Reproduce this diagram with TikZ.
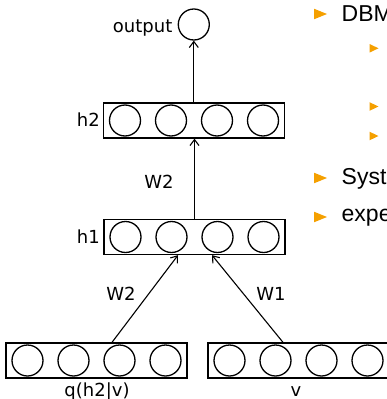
\documentclass[tikz,border=0pt]{standalone}
\usepackage{fontspec}
\setmainfont{DejaVu Sans}
\newfontfamily\slidefont{Liberation Sans}
\usetikzlibrary{arrows.meta}
\definecolor{bulletorange}{RGB}{245,160,0}

\begin{document}
\begin{tikzpicture}[x=1pt,y=-1pt,
  unit/.style={circle,draw,line width=1.3pt,minimum size=31pt,inner sep=0pt},
  layer/.style={draw,line width=1.3pt,minimum width=181pt,minimum height=35pt,inner sep=0pt},
  lbl/.style={font=\fontsize{18}{20}\selectfont,inner sep=0pt},
  conn/.style={line width=1.1pt,-{Straight Barb[length=6pt,width=9pt]}},
  bigbullet/.style={fill=bulletorange},
  bullettext/.style={font=\slidefont\fontsize{23}{26}\selectfont,inner sep=0pt,anchor=base west},
]
\useasboundingbox (0,0) rectangle (387,399);

% layers of units
\foreach \name/\cx/\cy in {h2/194/120.5, h1/194.5/237, q/96.5/360.5, v/298.5/360.5}{
  \node[layer] (\name) at (\cx,\cy) {};
  \foreach \i/\dx in {1/-69,2/-23,3/23,4/69}
    \node[unit] (\name-\i) at ([xshift=\dx pt]\name.center) {};
}
\node[unit] (out) at (193.8,24.5) {};

% layer labels
\node[lbl,anchor=base east] (outlbl) at (172.5,32) {output};
\node[lbl,anchor=base east] (h2lbl) at (100,126.5) {h2};
\node[lbl,anchor=base east] (h1lbl) at (100,243.3) {h1};
\node[lbl,anchor=base] (qlbl) at (97,396) {q(h2|v)};
\node[lbl,anchor=base] (vlbl) at (296,396) {v};

% connections
\draw[conn] (h2.north -| out.south) -- (out.south);
\draw[conn] (h1.north) -- (h2.south -| h1.north);
\draw[conn] ([xshift=15.5pt]q.north) -- ([xshift=-16.5pt]h1.south);
\draw[conn] ([xshift=-15.5pt]v.north) -- ([xshift=17.5pt]h1.south);

% weight labels
\node[lbl,anchor=base] (w2a) at (159,188.3) {W2};
\node[lbl,anchor=base] (w2b) at (121,300) {W2};
\node[lbl,anchor=base] (w1) at (271,300) {W1};

% bullet list on the right
\foreach \yc in {14,178,217}
  \fill[bigbullet] (314,\yc-5.3) -- (327,\yc) -- (314,\yc+5.3) -- cycle;
\foreach \yc in {48.3,106.5,136}
  \fill[bigbullet] (369.5,\yc-4.3) -- (378.5,\yc) -- (369.5,\yc+4.3) -- cycle;
\node[bullettext] (b1) at (341.5,21.7) {DBM};
\node[bullettext] (b2) at (341.5,184.3) {Syst};
\node[bullettext] (b3) at (341.5,221.7) {expe};
\end{tikzpicture}
\end{document}
